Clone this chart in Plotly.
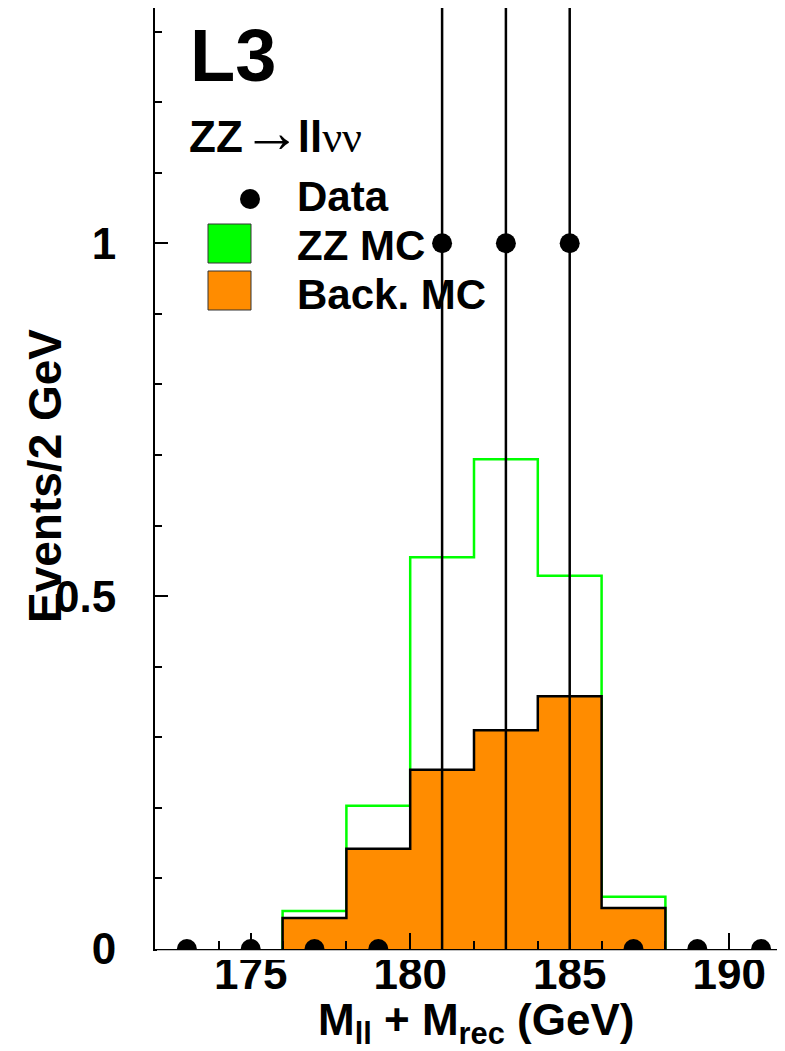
import plotly.graph_objects as go

# ---- data ----
bin_edges = [176, 178, 180, 182, 184, 186, 188]
back_mc = [0.044, 0.142, 0.254, 0.310, 0.358, 0.058]      # background MC per 2 GeV bin
zz_mc = [0.010, 0.061, 0.301, 0.384, 0.171, 0.016]        # ZZ signal MC (stacked on background)
data_x = [173, 175, 177, 179, 181, 183, 185, 187, 189, 191]
data_y = [0, 0, 0, 0, 1, 1, 1, 0, 0, 0]
x_ticks = [175, 180, 185, 190]
y_ticks = [0, 0.5, 1]
y_tick_text = ["0", "0.5", "1"]

FONT = "Liberation Sans Narrow, Liberation Sans, Arial, sans-serif"

# ---- layout geometry (page pixels; the page body adds an 8 px offset) ----
OFF = 8
FW, FH = 785 - OFF, 1051 - OFF
L, T, B = 155, 8, 949
R = OFF + FW
W, H = R - L, B - T
PX_PER_GEV = 31.9


def px(x):
    return (x - L) / W


def py(y):
    return (B - y) / H


def step_xy(edges, vals):
    xs = [edges[0]] + list(edges[:-1]) + [edges[-1], edges[-1]]
    ys = [0] + list(vals) + [vals[-1], 0]
    return xs, ys


total = [b + z for b, z in zip(back_mc, zz_mc)]

fig = go.Figure()

gx, gy = step_xy(bin_edges, total)
fig.add_trace(go.Scatter(x=gx, y=gy, mode="lines", line=dict(color="#00FF00", width=2.5, shape="hv"),
                         showlegend=False, hoverinfo="skip"))

bx, by = step_xy(bin_edges, back_mc)
fig.add_trace(go.Scatter(x=bx, y=by, mode="lines", line=dict(color="black", width=2.5, shape="hv"),
                         fill="toself", fillcolor="#FF8C00", showlegend=False, hoverinfo="skip"))

err_up = [1.0 if v > 0 else 0 for v in data_y]
err_dn = [1.0 if v > 0 else 0 for v in data_y]
fig.add_trace(go.Scatter(x=data_x, y=data_y, mode="markers",
                         marker=dict(color="black", size=20),
                         error_y=dict(type="data", symmetric=False, array=err_up, arrayminus=err_dn,
                                      color="black", thickness=2.5, width=0),
                         showlegend=False, cliponaxis=True))

tickfont = dict(family=FONT, size=44, color="black", weight="bold")

fig.update_xaxes(range=[172, 172 + W / PX_PER_GEV], showgrid=False, zeroline=False,
                 showline=True, linecolor="black", linewidth=2, mirror=True,
                 tickmode="array", tickvals=x_ticks, ticks="inside", ticklen=16, tickwidth=1.5,
                 tickcolor="black", tickfont=tickfont, ticklabelstandoff=-15,
                 minor=dict(dtick=2, tick0=0, ticks="inside", ticklen=8, tickwidth=1.5,
                            tickcolor="black", showgrid=False))
fig.update_yaxes(range=[0, 941 / 705.7], showgrid=False, zeroline=False,
                 showline=True, linecolor="black", linewidth=2,
                 tickmode="array", tickvals=y_ticks, ticktext=y_tick_text,
                 ticks="inside", ticklen=13, tickwidth=1.5, tickcolor="black",
                 tickfont=tickfont, ticklabelstandoff=28,
                 minor=dict(dtick=0.1, tick0=0, ticks="inside", ticklen=7, tickwidth=1.5,
                            tickcolor="black", showgrid=False))

SERIF = "font-family:Liberation Serif, DejaVu Serif, serif;font-weight:normal"
ann = []
ann.append(dict(text="L3", x=px(188), y=py(56), xanchor="left", yanchor="middle",
                font=dict(family=FONT, size=74, color="black", weight="bold")))
ann.append(dict(text=f'ZZ<span style="{SERIF};font-size:58px;letter-spacing:-3px">\u2192</span>ll'
                     f'<span style="{SERIF}">\u03bd\u03bd</span>',
                x=px(187), y=py(133), xanchor="left", yanchor="middle",
                font=dict(family=FONT, size=44, color="black", weight="bold")))
for label, yc in [("Data", 197), ("ZZ MC", 246), ("Back. MC", 294)]:
    ann.append(dict(text=label, x=px(295), y=py(yc), xanchor="left", yanchor="middle",
                    font=dict(family=FONT, size=42, color="black", weight="bold")))
ann.append(dict(text="Events/2 GeV", x=px(45), y=py(476), textangle=-90,
                xanchor="center", yanchor="middle",
                font=dict(family=FONT, size=46, color="black", weight="bold")))
ann.append(dict(text="M<sub>ll</sub> + M<sub>rec</sub> (GeV)", x=px(476), y=py(1023),
                xanchor="center", yanchor="middle",
                font=dict(family=FONT, size=44, color="black", weight="bold")))
for a in ann:
    a.update(xref="paper", yref="paper", showarrow=False)

shapes = [
    # white mask below the x axis: data markers at zero are cut at the frame as in the original
    dict(type="rect", xref="paper", yref="paper", x0=px(157), x1=1.0, y0=py(960), y1=py(950.3),
         fillcolor="white", line=dict(width=0), layer="above"),
    dict(type="circle", xref="paper", yref="paper", x0=px(240), x1=px(260), y0=py(209), y1=py(189),
         fillcolor="black", line=dict(width=0)),
    dict(type="rect", xref="paper", yref="paper", x0=px(208), x1=px(251), y0=py(263), y1=py(224),
         fillcolor="#00FF00", line=dict(color="#333333", width=1)),
    dict(type="rect", xref="paper", yref="paper", x0=px(208), x1=px(251), y0=py(310), y1=py(271),
         fillcolor="#FF8C00", line=dict(color="#333333", width=1)),
]

fig.update_layout(width=FW, height=FH,
                  margin=dict(l=L - OFF, r=0, t=T - OFF, b=FH - (B - OFF), autoexpand=False),
                  paper_bgcolor="white", plot_bgcolor="white", annotations=ann, shapes=shapes,
                  showlegend=False)

fig.write_html("out.html")
